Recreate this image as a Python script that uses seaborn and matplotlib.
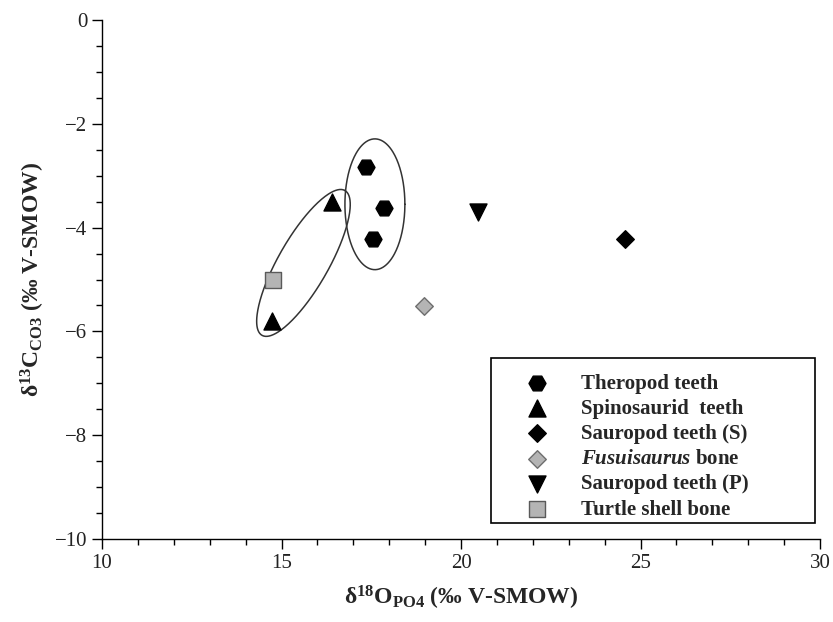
import numpy as np
import matplotlib
matplotlib.use("Agg")
import matplotlib.pyplot as plt
from matplotlib.patches import Rectangle
import seaborn as sns

sns.set_style("ticks")
plt.rcParams["font.family"] = ["Liberation Serif", "DejaVu Serif"]
plt.rcParams["mathtext.fontset"] = "custom"
plt.rcParams["mathtext.rm"] = "Liberation Serif:bold"
plt.rcParams["mathtext.bf"] = "Liberation Serif:bold"
plt.rcParams["mathtext.it"] = "Liberation Serif:italic:bold"

# data
theropod_x = [17.35, 17.85, 17.55]
theropod_y = [-2.83, -3.62, -4.22]
spino_x = [16.41, 14.74]
spino_y = [-3.51, -5.80]
sauro_s_x = [24.57]
sauro_s_y = [-4.22]
fusui_x = [18.97]
fusui_y = [-5.51]
sauro_p_x = [20.47]
sauro_p_y = [-3.70]
turtle_x = [14.76]
turtle_y = [-5.01]

groups = [
    ("Theropod teeth", theropod_x, theropod_y, "H", "black", "black", 150),
    ("Spinosaurid  teeth", spino_x, spino_y, "^", "black", "black", 150),
    ("Sauropod teeth (S)", sauro_s_x, sauro_s_y, "D", "black", "black", 80),
    (r"$\it{Fusuisaurus}$ bone", fusui_x, fusui_y, "D", "#b4b4b4", "#6e6e6e", 80),
    ("Sauropod teeth (P)", sauro_p_x, sauro_p_y, "v", "black", "black", 150),
    ("Turtle shell bone", turtle_x, turtle_y, "s", "#b4b4b4", "#5a5a5a", 130),
]

fig = plt.figure(figsize=(8.33, 6.22), dpi=100)
ax = fig.add_axes([0.1225, 0.1334, 0.8620, 0.8344])

for name, xs, ys, mk, fc, ec, sz in groups:
    sns.scatterplot(x=xs, y=ys, marker=mk, color=fc, edgecolor=ec,
                    linewidth=1.0, s=sz, label=name, ax=ax, zorder=3)

# grouping ellipses
t = np.linspace(0, 2 * np.pi, 300)
ax.plot(17.6 + 0.835 * np.cos(t), -3.55 + 1.26 * np.sin(t),
        color="#333333", lw=1.1, zorder=2)
cx, cy = 15.61, -4.68
ux, uy = 1.155, 1.395
vx, vy = 0.604, -0.239
ax.plot(cx + ux * np.cos(t) + vx * np.sin(t),
        cy + uy * np.cos(t) + vy * np.sin(t),
        color="#333333", lw=1.1, zorder=2)

ax.set_xlim(10, 30)
ax.set_ylim(-10, 0)
ax.set_xticks([10, 15, 20, 25, 30])
ax.set_xticks(np.arange(10, 31, 1), minor=True)
ax.set_yticks([0, -2, -4, -6, -8, -10])
ax.set_yticks(np.arange(-10, 0.01, 0.5), minor=True)
ax.tick_params(which="major", direction="out", length=7, width=1,
               labelsize=15, color="black", labelcolor="#222222")
ax.tick_params(which="minor", direction="out", length=4, width=1, color="black")
for s in ["top", "right"]:
    ax.spines[s].set_visible(False)
for s in ["left", "bottom"]:
    ax.spines[s].set_linewidth(1.0)
    ax.spines[s].set_color("black")

ax.set_xlabel(r"δ$^{18}$O$_{\mathbf{PO4}}$ (‰ V-SMOW)", fontsize=17,
              fontweight="bold", labelpad=8)
ax.set_ylabel(r"δ$^{13}$C$_{\mathbf{CO3}}$ (‰ V-SMOW)", fontsize=17,
              fontweight="bold", labelpad=6)

# legend with a wide box
ax.add_patch(Rectangle((0.542, 0.031), 0.451, 0.318, transform=ax.transAxes,
                       fill=True, facecolor="white", edgecolor="black",
                       lw=1.2, zorder=4))
leg = ax.legend(loc="upper left", bbox_to_anchor=(0.564, 0.347), frameon=False,
                prop={"family": "Liberation Serif", "weight": "bold", "size": 15},
                handletextpad=1.35, labelspacing=0.25, borderpad=0.2,
                handlelength=1.5)
leg.set_zorder(5)

fig.savefig("out.png", dpi=100)
